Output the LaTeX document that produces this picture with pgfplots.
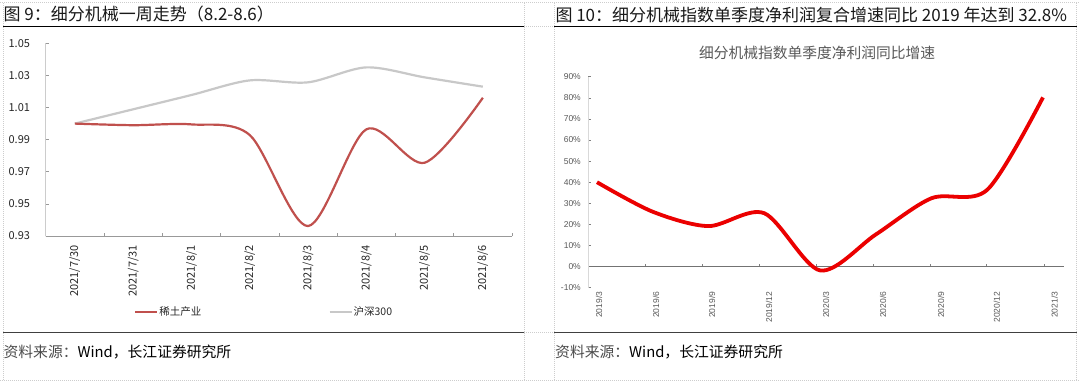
\documentclass[border=0pt]{standalone}
\usepackage{fontspec}
\setmainfont{Noto Sans CJK SC}
\newfontfamily\arialf{Liberation Sans}
\usepackage{pgfplots}
\pgfplotsset{compat=1.18}
\definecolor{redA}{RGB}{192,80,77}
\definecolor{grayA}{RGB}{200,200,200}
\definecolor{redB}{RGB}{235,0,0}
\definecolor{txtgray}{RGB}{89,89,89}
\definecolor{dotgray}{RGB}{205,205,205}
\begin{document}
\begin{tikzpicture}
\path[use as bounding box, fill=white] (0pt,0pt) rectangle (1080pt,384pt);
% dotted cell borders
\begin{scope}[dotgray, line width=0.6pt, dash pattern=on 1pt off 1pt]
\draw (0pt,381.3pt) -- (1080pt,381.3pt);
\draw (0pt,4pt) -- (1080pt,4pt);
\draw (3.4pt,4pt) -- (3.4pt,381.3pt);
\draw (524.3pt,4pt) -- (524.3pt,381.3pt);
\draw (554pt,4pt) -- (554pt,381.3pt);
\draw (1076.7pt,4pt) -- (1076.7pt,381.3pt);
\draw (524.3pt,357.3pt) -- (554pt,357.3pt);
\draw (524.3pt,51.7pt) -- (554pt,51.7pt);
\end{scope}
% solid rules
\draw[black, line width=1.1pt] (3.4pt,357.3pt) -- (524.3pt,357.3pt);
\draw[black!75, line width=1.3pt] (3.4pt,51.7pt) -- (524.3pt,51.7pt);
\draw[black, line width=1.1pt] (554pt,357.3pt) -- (1076.7pt,357.3pt);
\draw[black!75, line width=1.3pt] (554pt,51.7pt) -- (1076.7pt,51.7pt);
% titles
\node[anchor=west, inner sep=0pt, font=\fontsize{17}{17}\selectfont, text=black!90] at (3.4pt,369.5pt) {图 9：细分机械一周走势（8.2-8.6）};
\node[anchor=west, inner sep=0pt, font=\fontsize{17}{17}\selectfont, text=black!90] at (555.3pt,369pt) {图 10：细分机械指数单季度净利润复合增速同比 2019 年达到 32.8\%};
% sources
\node[anchor=west, inner sep=0pt, font=\fontsize{14.8}{14.8}\selectfont] at (3.4pt,32.3pt) {\textcolor{black!70}{资料来源：}Wind，长江证券研究所};
\node[anchor=west, inner sep=0pt, font=\fontsize{14.8}{14.8}\selectfont] at (555pt,32.3pt) {\textcolor{black!70}{资料来源：}Wind，长江证券研究所};
% right chart title
\node[font=\fontsize{14.75}{14.75}\selectfont, text=txtgray, inner sep=0pt] at (817pt,330.7pt) {细分机械指数单季度净利润同比增速};

% ---------- left chart ----------
\begin{axis}[
  at={(45.7pt,148pt)}, anchor=south west,
  scale only axis, width=466.3pt, height=192.7pt,
  xmin=-0.5, xmax=7.5, ymin=0.93, ymax=1.05,
  axis x line*=bottom, axis y line*=left,
  x axis line style={draw=black!40, line width=0.8pt},
  y axis line style={draw=black!20, line width=0.8pt},
  tick align=inside, major tick length=3pt,
  tick style={draw=black!40, line width=0.6pt},
  xtick={-0.5,0.5,1.5,2.5,3.5,4.5,5.5,6.5,7.5}, xticklabels={},
  extra x ticks={0,1,2,3,4,5,6,7},
  extra x tick labels={2021/7/30,2021/7/31,2021/8/1,2021/8/2,2021/8/3,2021/8/4,2021/8/5,2021/8/6},
  extra x tick style={major tick length=0pt, xticklabel style={yshift=-9pt, rotate=90, anchor=east, inner sep=0pt}},
  ytick={0.93,0.95,0.97,0.99,1.01,1.03,1.05},
  yticklabels={0.93,0.95,0.97,0.99,1.01,1.03,1.05},
  yticklabel style={inner sep=0pt, xshift=-15.5pt},
  tick label style={font=\fontsize{11}{11}\selectfont, text=black!85},
  legend columns=2,
  legend style={draw=none, fill=none, at={(0.1894,-0.396)}, anchor=west, inner sep=0pt,
    font=\fontsize{10.5}{10.5}\selectfont, nodes={inner sep=1pt, text=black!85},
    /tikz/every even column/.append style={column sep=126pt}},
  legend image code/.code={\draw[#1] (0pt,0pt) -- (22pt,0pt);},
  clip=false,
]
\addplot[grayA, line width=2.2pt, smooth, forget plot] coordinates {
  (0,1.000) (1,1.0089) (2,1.0178) (3,1.0269) (4,1.0257) (5,1.0350) (6,1.0288) (7,1.0230)};
\addplot[redA, line width=2.2pt, smooth] coordinates {
  (0,1.000) (1,0.9990) (2,0.9995) (3,0.9929) (4,0.9362) (5,0.9964) (6,0.9756) (7,1.0161)};
\addlegendentry{稀土产业}
\addlegendimage{grayA, line width=2.2pt}
\addlegendentry{沪深300}
\end{axis}

% ---------- right chart ----------
\begin{axis}[
  at={(588.3pt,96.3pt)}, anchor=south west,
  scale only axis, width=475.7pt, height=211pt,
  xmin=-0.156, xmax=8.377, ymin=-10, ymax=90,
  axis x line*=middle, axis y line*=left,
  hide obscured x ticks=false, hide obscured y ticks=false,
  x axis line style={draw=black!55, line width=0.8pt},
  y axis line style={draw=black!15, line width=1pt},
  tick align=inside, major tick length=2.5pt,
  tick style={draw=black!50, line width=0.6pt},
  xtick={0.874,1.896,2.906,3.93,4.95,5.97,6.99,8.02}, xticklabels={},
  extra x ticks={0.036,1.058,2.063,3.085,4.108,5.13,6.17,7.17,8.21},
  extra x tick labels={2019/3,2019/6,2019/9,2019/12,2020/3,2020/6,2020/9,2020/12,2021/3},
  extra x tick style={major tick length=0pt, xticklabel style={yshift=-25pt, rotate=90, anchor=east, inner sep=0pt}},
  ytick={-10,0,10,20,30,40,50,60,70,80,90},
  yticklabels={-10\%,0\%,10\%,20\%,30\%,40\%,50\%,60\%,70\%,80\%,90\%},
  yticklabel style={inner sep=0pt, xshift=-7.3pt},
  tick label style={font=\arialf\fontsize{8.5}{8.5}\selectfont, text=txtgray},
  clip=false,
]
\addplot[redB, line width=3.8pt, smooth] coordinates {
  (0,40) (1,26) (2,19.2) (3,25.3) (4,-1.8) (5,15.2) (6,32.4) (7,36.4) (8,80.2)};
\end{axis}
\end{tikzpicture}
\end{document}
